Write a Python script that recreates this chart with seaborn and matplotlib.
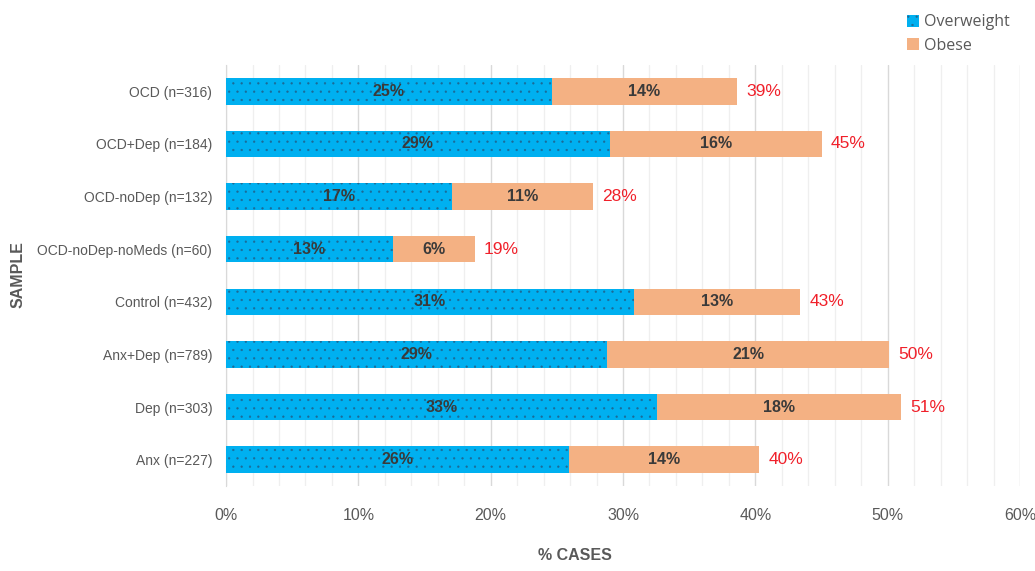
import numpy as np
import pandas as pd
import seaborn as sns
import matplotlib.pyplot as plt
from matplotlib.ticker import MultipleLocator, PercentFormatter
from matplotlib.patches import Patch

# values (percent of cases)
samples = ['OCD (n=316)', 'OCD+Dep (n=184)', 'OCD-noDep (n=132)', 'OCD-noDep-noMeds (n=60)',
           'Control (n=432)', 'Anx+Dep (n=789)', 'Dep (n=303)', 'Anx (n=227)']
overweight = [24.6, 29.0, 17.1, 12.6, 30.8, 28.8, 32.6, 25.9]
obese = [14.0, 16.0, 10.6, 6.2, 12.6, 21.3, 18.4, 14.4]

blue = '#00B0F0'
orange = '#F4B183'
red = '#F0202A'
grey_txt = '#595959'
dot_col = '#1c6a96'

sns.set_style('white')
plt.rcParams['font.family'] = ['Liberation Sans', 'DejaVu Sans']
plt.rcParams['hatch.linewidth'] = 0.4
plt.rcParams['hatch.color'] = dot_col

df = pd.DataFrame({'sample': samples, 'overweight': overweight, 'obese': obese})
df['total'] = df['overweight'] + df['obese']

fig = plt.figure(figsize=(10.35, 5.71), dpi=100)
ax = fig.add_axes([0.2184, 0.149, 0.7671, 0.737])

# stacked bars: total (orange) underneath, overweight (blue, dotted) on top
sns.barplot(data=df, x='total', y='sample', color=orange, width=0.5,
            orient='h', ax=ax, linewidth=0, saturation=1, zorder=3)
sns.barplot(data=df, x='overweight', y='sample', color=blue, width=0.5,
            orient='h', ax=ax, linewidth=0, saturation=1, hatch='..',
            edgecolor=dot_col, zorder=3)

ax.set_xlim(0, 60)
ax.set_ylim(7.5, -0.5)
ax.xaxis.set_major_locator(MultipleLocator(10))
ax.xaxis.set_minor_locator(MultipleLocator(2))
ax.xaxis.set_major_formatter(PercentFormatter(decimals=0))
ax.grid(axis='x', which='major', color='#D9D9D9', linewidth=1.0, zorder=0)
ax.grid(axis='x', which='minor', color='#EFEFEF', linewidth=0.9, zorder=0)
ax.set_axisbelow(True)

for side in ['top', 'right', 'bottom']:
    ax.spines[side].set_visible(False)
ax.spines['left'].set_color('#D9D9D9')
ax.tick_params(axis='both', length=0, colors=grey_txt)
ax.tick_params(axis='x', labelsize=11.5, pad=16)
ax.tick_params(axis='y', labelsize=10, pad=10)

# bar labels
for i, row in df.iterrows():
    ax.text(row['overweight'] / 2, i, f"{round(row['overweight'])}%", ha='center', va='center',
            fontsize=11.5, color='#3a3a3a', fontweight='bold', zorder=5)
    ax.text(row['overweight'] + row['obese'] / 2, i, f"{round(row['obese'])}%", ha='center',
            va='center', fontsize=11.5, color='#3a3a3a', fontweight='bold', zorder=5)
    ax.text(row['total'] + 0.7, i, f"{round(row['total'])}%", ha='left', va='center',
            fontsize=12.5, color=red, zorder=5)

ax.set_xlabel('')
ax.set_ylabel('')
fig.text(0.5556, 0.014, '% CASES', ha='center', va='bottom', fontsize=11.5,
         fontweight='bold', color=grey_txt)
fig.text(0.017, 0.52, 'SAMPLE', ha='center', va='center', rotation=90, fontsize=11.5,
         fontweight='bold', color=grey_txt)

handles = [Patch(facecolor=blue, hatch='..', edgecolor=dot_col, linewidth=0, label='Overweight'),
           Patch(facecolor=orange, linewidth=0, label='Obese')]
fig.legend(handles=handles, loc='upper left', bbox_to_anchor=(0.862, 1.0), frameon=False,
           handlelength=0.8, handleheight=0.8, handletextpad=0.3,
           labelspacing=0.45, labelcolor=grey_txt, prop={'family': 'Open Sans', 'size': 11.5})

fig.savefig('out.png', dpi=100)
